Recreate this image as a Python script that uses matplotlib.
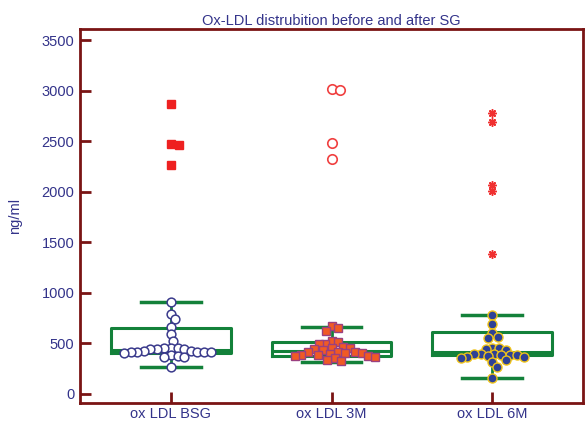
import numpy as np
import matplotlib
matplotlib.use("Agg")
import matplotlib.pyplot as plt

plt.rcParams['font.family'] = ['Liberation Sans', 'DejaVu Sans']

categories = ["ox LDL BSG", "ox LDL 3M", "ox LDL 6M"]

# swarm points (ng/ml)
bsg = [910, 790, 740, 660, 590, 525, 456, 452, 450, 448, 446, 444,
       422, 420, 418, 416, 414, 412, 410, 408, 380, 375, 370, 365, 270]
m3 = [625, 655, 670, 490, 495, 515, 525, 432, 442, 452, 458, 466,
      372, 378, 385, 388, 395, 402, 406, 410, 414, 418, 325, 335, 352, 365]
m6 = [780, 690, 605, 565, 555, 445, 452, 458, 435, 398, 392, 386, 382,
      388, 394, 335, 352, 362, 370, 374, 315, 265, 160]

# outliers
bsg_out = [2870, 2470, 2460, 2265]
m3_out = [3005, 3015, 2480, 2320]
m6_out = [2780, 2690, 2065, 2005, 1385]

# box statistics
q1 = [405, 376, 386]
med = [435, 425, 415]
q3 = [655, 515, 613]
whislo = [270, 318, 160]
whishi = [910, 665, 780]

navy = '#33338a'
maroon = '#7a1414'
green = '#13813a'

fig = plt.figure(figsize=(5.85, 4.23), dpi=100)
ax = fig.add_axes([80/585, 1-403/423, 503/585, 374/423])
ax.set_xlim(0.435, 3.565)
ax.set_ylim(-90, 3610)

pos = np.arange(1, 4)
stats = [dict(q1=q1[i], med=med[i], q3=q3[i], whislo=whislo[i], whishi=whishi[i], fliers=[])
         for i in range(3)]
ax.bxp(stats, positions=pos, widths=0.745, capwidths=0.37, showfliers=False,
       boxprops=dict(color=green, lw=2.2),
       medianprops=dict(color=green, lw=2.2),
       whiskerprops=dict(color=green, lw=2),
       capprops=dict(color=green, lw=2.5), zorder=2)

# pixel scales for swarm layout
fig.canvas.draw()
p0 = ax.transData.transform((0, 0))
p1 = ax.transData.transform((1, 1))
xpx = p1[0] - p0[0]
ypx = p1[1] - p0[1]


def swarm(vals, center, d):
    placed = []
    xs = []
    for v in vals:
        y = v * ypx
        cands = [0.0]
        for px, py in placed:
            dy = y - py
            if abs(dy) < d:
                dx = np.sqrt(d**2 - dy**2)
                cands += [px + dx, px - dx]
        cands.sort(key=abs)
        for c in cands:
            if all((c - px)**2 + (y - py)**2 >= d**2 - 1e-6 for px, py in placed):
                break
        placed.append((c, y))
        xs.append(center + c / xpx)
    return xs


def sw(vals, center, d=6.8):
    order = np.argsort(vals)[::-1]
    v = [vals[i] for i in order]
    return swarm(v, center, d), v


x, y = sw(bsg, 1)
ax.plot(x, y, 'o', ms=6.3, mfc='white', mec='#3a3a8c', mew=1.1, ls='none', zorder=3)
x, y = sw(m3, 2)
ax.plot(x, y, 's', ms=6.3, mfc='#f05a24', mec='#9a4080', mew=1.0, ls='none', zorder=3)
x, y = sw(m6, 3)
ax.plot(x, y, 'o', ms=6.5, mfc='#2e4196', mec='#f0c419', mew=1.0, ls='none', zorder=3)

x, y = sw(bsg_out, 1, 8.3)
ax.plot(x, y, 's', ms=6.3, mfc='#ee2020', mec='#ee2020', ls='none', zorder=3)
x, y = sw(m3_out, 2, 9)
ax.plot(x, y, 'o', ms=6.8, mfc='white', mec='#f04040', mew=1.2, ls='none', zorder=3)
ax.plot([3] * len(m6_out), m6_out, marker=(8, 2, 0), ms=6, color='#f03030',
        mew=1.1, ls='none', zorder=3)

ax.set_xticks(pos)
ax.set_xticklabels(categories)
ax.set_yticks(np.arange(0, 3501, 500))
ax.tick_params(direction='in', color=maroon, width=2, length=8,
               labelcolor=navy, labelsize=10.5, pad=4)
ax.tick_params(axis='x', pad=3)
for s in ax.spines.values():
    s.set_color(maroon)
    s.set_linewidth(2)

ax.set_ylabel("ng/ml", color=navy, fontsize=10.5, labelpad=14)
ax.set_title("Ox-LDL distrubition before and after SG", color=navy, fontsize=10.5, pad=3)

fig.savefig("out.png", dpi=100)
